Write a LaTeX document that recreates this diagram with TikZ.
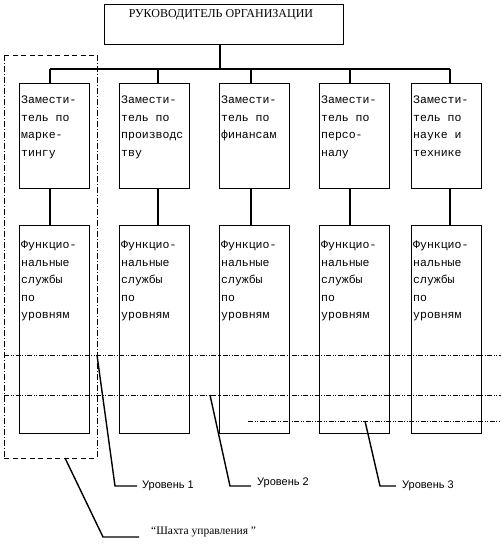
\documentclass[tikz,border=0pt]{standalone}
\usepackage{fontspec}
\setmainfont{Liberation Serif}
\newfontfamily\monofnt{Liberation Mono}
\newfontfamily\sansfnt{Liberation Sans}
\begin{document}
\begin{tikzpicture}[x=1pt,y=-1pt,
  box/.style={draw, line width=1.4pt, inner sep=0pt, anchor=north west},
  link/.style={line width=1.1pt},
  lvl/.style={line width=0.6pt, dash pattern=on 5pt off 1.5pt on 1pt off 1.5pt on 1pt off 1.5pt},
  shafth/.style={line width=0.8pt, dash pattern=on 5pt off 3.5pt},
  shaftv/.style={line width=0.8pt, dash pattern=on 6pt off 2pt on 1pt off 2pt},
  leader/.style={line width=1.4pt},
  boxtxt/.style={font=\monofnt\fontsize{11.5}{17.5}\selectfont, align=left, anchor=north west, inner sep=0pt},
  lvltxt/.style={font=\sansfnt\fontsize{11}{13}\selectfont, anchor=west, inner sep=0pt}]
\useasboundingbox (0,0) rectangle (501,559);
\fill[white] (0,0) rectangle (501,559);

% top box
\node[box, minimum width=239pt, minimum height=40pt] (top) at (104,4) {};
\node[font=\fontsize{12}{14}\selectfont, anchor=base, inner sep=0pt] (toptxt) at (221,18) {РУКОВОДИТЕЛЬ ОРГАНИЗАЦИИ};

% bus
\coordinate (s1) at (50,69);
\coordinate (s2) at (158,69);
\coordinate (s3) at (251,69);
\coordinate (s4) at (350,69);
\coordinate (s5) at (450,69);
\draw[link] (top.south -| 220,0) -- (220,69);
\draw[link] (s1) -- (s5);

% deputy boxes
\foreach \i/\x in {1/19,2/119,3/219,4/319,5/411}{
  \node[box, minimum width=70pt, minimum height=105pt] (d\i) at (\x,83) {};
  \node[box, minimum width=70pt, minimum height=208pt] (f\i) at (\x,225) {};
  \draw[link] (s\i) -- (s\i |- d\i.north);
  \draw[link] (d\i.south -| s\i) -- (f\i.north -| s\i);
  \node[boxtxt] (ft\i) at (\x+2,241) {Функцио-\\нальные\\службы\\по\\уровням};
}
\node[boxtxt] (dt1) at (21,96) {Замести-\\тель по\\марке-\\тингу};
\node[boxtxt] (dt2) at (121,96) {Замести-\\тель по\\производс\\тву};
\node[boxtxt] (dt3) at (221,96) {Замести-\\тель по\\финансам};
\node[boxtxt] (dt4) at (321,96) {Замести-\\тель по\\персо-\\налу};
\node[boxtxt] (dt5) at (413,96) {Замести-\\тель по\\науке и\\технике};

% shaft
\draw[shafth] (4,55) -- (97,55);
\draw[shafth] (4,458) -- (97,458);
\draw[shaftv] (4,55) -- (4,458);
\draw[shaftv] (97,55) -- (97,458);

% level lines
\draw[lvl] (4,355) -- (501,355);
\draw[lvl] (4,395) -- (501,395);
\draw[lvl] (248,421) -- (501,421);

% leaders
\coordinate (a1) at (97,355);
\coordinate (b1) at (115,486);
\node[lvltxt] (u1) at (142,486) {Уровень 1};
\draw[leader] (a1) -- (b1) -- (137,486);

\coordinate (a2) at (210,395);
\coordinate (b2) at (230,486);
\node[lvltxt] (u2) at (257,483) {Уровень 2};
\draw[leader] (a2) -- (b2) -- (251,486);

\coordinate (a3) at (365,421);
\coordinate (b3) at (380,486);
\node[lvltxt] (u3) at (402,486) {Уровень 3};
\draw[leader] (a3) -- (b3) -- (396,486);

\coordinate (a4) at (65,458);
\coordinate (b4) at (103,537);
\node[font=\fontsize{11.5}{13}\selectfont, anchor=west, inner sep=0pt] (shaft) at (151,532) {“Шахта управления ”};
\draw[leader] (a4) -- (b4) -- (139,537);
\end{tikzpicture}
\end{document}
